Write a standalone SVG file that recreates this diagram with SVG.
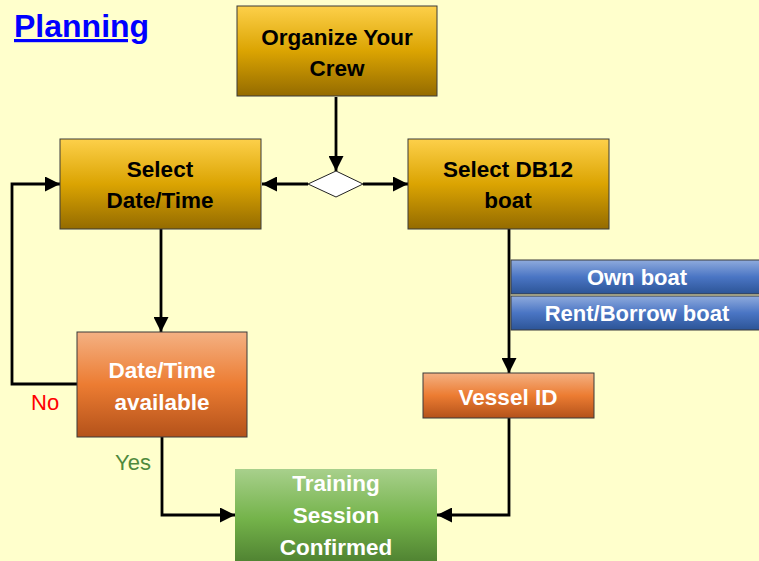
<svg xmlns="http://www.w3.org/2000/svg" width="759" height="561" viewBox="0 0 759 561">
<defs>
<linearGradient id="gold" x1="0" y1="0" x2="0" y2="1">
<stop offset="0" stop-color="#fdd04a"/><stop offset="0.5" stop-color="#dba402"/><stop offset="1" stop-color="#946b00"/>
</linearGradient>
<linearGradient id="orange" x1="0" y1="0" x2="0" y2="1">
<stop offset="0" stop-color="#f4b183"/><stop offset="0.5" stop-color="#ec7c32"/><stop offset="1" stop-color="#b4521a"/>
</linearGradient>
<linearGradient id="green" x1="0" y1="0" x2="0" y2="1">
<stop offset="0" stop-color="#a8d08c"/><stop offset="0.5" stop-color="#74b34a"/><stop offset="1" stop-color="#4a7b2e"/>
</linearGradient>
<linearGradient id="blue" x1="0" y1="0" x2="0" y2="1">
<stop offset="0" stop-color="#8fabdd"/><stop offset="0.5" stop-color="#4a75c4"/><stop offset="1" stop-color="#2c5496"/>
</linearGradient>
<marker id="arr" viewBox="0 0 15 15" refX="15" refY="7.5" markerWidth="15" markerHeight="15" markerUnits="userSpaceOnUse" orient="auto">
<path d="M0,0 L15,7.5 L0,15 Z" fill="#000"/>
</marker>
<style>
.box{stroke:#3a3a3a;stroke-width:1}
.t{font-family:"Liberation Sans",Arial,sans-serif;font-weight:bold;font-size:22.5px;text-anchor:middle}
.dk{fill:#000}
.wh{fill:#fff}
.bl{font-size:22px}
.c{fill:none;stroke:#000;stroke-width:2.8}
.lab{font-family:"Liberation Sans",Arial,sans-serif;font-size:22px}
</style>
</defs>
<rect width="759" height="561" fill="#ffffcc"/>
<text x="14" y="37" font-family="'Liberation Sans',Arial,sans-serif" font-weight="bold" font-size="32" fill="#0000ff" text-decoration="underline">Planning</text>
<g id="connectors">
<line class="c" x1="336" y1="97" x2="336" y2="171" marker-end="url(#arr)"/>
<line class="c" x1="308" y1="184" x2="262" y2="184" marker-end="url(#arr)"/>
<line class="c" x1="363" y1="184" x2="408" y2="184" marker-end="url(#arr)"/>
<line class="c" x1="161" y1="229" x2="161" y2="332" marker-end="url(#arr)"/>
<polyline class="c" points="77,384 12,384 12,184 60,184" marker-end="url(#arr)"/>
<line class="c" x1="509" y1="229" x2="509" y2="373" marker-end="url(#arr)"/>
<polyline class="c" points="162,437 162,515 235,515" marker-end="url(#arr)"/>
<polyline class="c" points="509,418 509,515 437,515" marker-end="url(#arr)"/>
<text class="lab" x="31" y="410" fill="#ff0000">No</text>
<text class="lab" x="115" y="470" fill="#4f8a3c">Yes</text>
</g>
<g id="organize">
<rect class="box" x="237" y="6" width="200" height="90" fill="url(#gold)"/>
<text class="t dk" x="337" y="45">Organize Your</text>
<text class="t dk" x="337" y="76">Crew</text>
</g>
<g id="decision">
<polygon points="308,184 336,171 363,184 336,197" fill="#fff" stroke="#222" stroke-width="1"/>
</g>
<g id="select-date">
<rect class="box" x="60" y="139" width="201" height="90" fill="url(#gold)"/>
<text class="t dk" x="160" y="177">Select</text>
<text class="t dk" x="160" y="208">Date/Time</text>
</g>
<g id="select-boat">
<rect class="box" x="408" y="139" width="201" height="90" fill="url(#gold)"/>
<text class="t dk" x="508" y="177">Select DB12</text>
<text class="t dk" x="508" y="208">boat</text>
</g>
<g id="own-boat">
<rect class="box" x="511" y="260" width="252" height="34" fill="url(#blue)"/>
<text class="t wh bl" x="637" y="285">Own boat</text>
</g>
<g id="rent-boat">
<rect class="box" x="511" y="296" width="252" height="34" fill="url(#blue)"/>
<text class="t wh bl" x="637" y="321">Rent/Borrow boat</text>
</g>
<g id="date-available">
<rect class="box" x="77" y="332" width="170" height="105" fill="url(#orange)"/>
<text class="t wh" x="162" y="378">Date/Time</text>
<text class="t wh" x="162" y="410">available</text>
</g>
<g id="vessel-id">
<rect class="box" x="423" y="373" width="171" height="45" fill="url(#orange)"/>
<text class="t wh" x="508" y="405">Vessel ID</text>
</g>
<g id="training">
<rect x="235" y="469" width="202" height="100" fill="url(#green)"/>
<text class="t wh" x="336" y="491">Training</text>
<text class="t wh" x="336" y="523">Session</text>
<text class="t wh" x="336" y="555">Confirmed</text>
</g>
</svg>
